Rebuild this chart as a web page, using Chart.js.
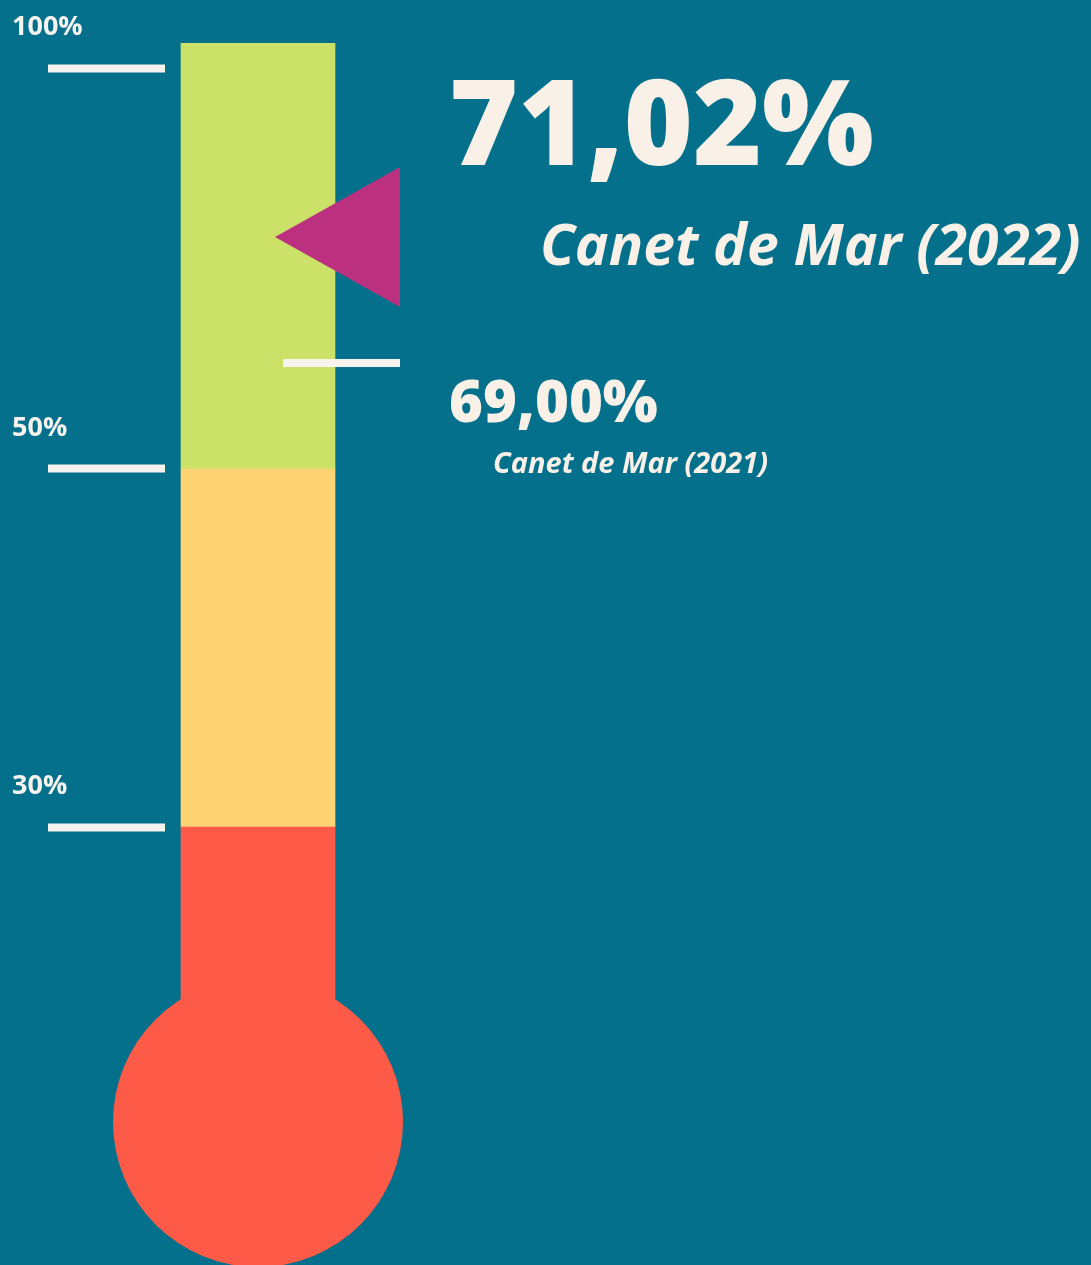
<!DOCTYPE html>
<html><head><meta charset="utf-8">
<script src="https://cdn.jsdelivr.net/npm/chart.js@4/dist/chart.umd.min.js"></script>
<style>html,body{margin:0;padding:0;background:#04708b;} canvas{display:block}</style>
</head><body>
<canvas id="c" width="1091" height="1265"></canvas>
<script>
// ---------- data ----------
const categories = ['Canet de Mar'];
const bandStarts = [0, 30, 50];            // lower edges of red / yellow / green bands (%)
const axisMax = 103;                       // top of the thermometer tube (%)
const tickValues = [30, 50, 100];
const seriesNames = ['Canet de Mar (2022)', 'Canet de Mar (2021)'];
const seriesValues = [71.02, 69.00];
const bulbValue = [0];

// non-linear axis of the infographic: [value, fraction of axis height]
const axisStops = [[0, 0], [30, 0.2734], [50, 0.6052], [69, 0.7034], [71.02, 0.8202], [100, 0.9768], [103, 1]];

class ThermoScale extends Chart.LinearScale {
  _dec(v) {
    const s = axisStops;
    let i = 1;
    while (i < s.length - 1 && v > s[i][0]) i++;
    const [v0, f0] = s[i - 1], [v1, f1] = s[i];
    return f0 + (v - v0) / (v1 - v0) * (f1 - f0);
  }
  getPixelForValue(v) { return this.getPixelForDecimal(this._dec(v)); }
  getValueForPixel(p) {
    const d = this.getDecimalForPixel(p), s = axisStops;
    let i = 1;
    while (i < s.length - 1 && d > s[i][1]) i++;
    const [v0, f0] = s[i - 1], [v1, f1] = s[i];
    return v0 + (d - f0) / (f1 - f0) * (v1 - v0);
  }
}
ThermoScale.id = 'thermo';
ThermoScale.defaults = Chart.LinearScale.defaults;
Chart.register(ThermoScale);

const fmt = v => v.toFixed(2).replace('.', ',') + '%';

const markerPlugin = {
  id: 'markers',
  afterDatasetsDraw(chart) {
    const ys = chart.scales.y, ctx = chart.ctx;
    const bar = chart.getDatasetMeta(0).data[0];
    const right = bar.x + bar.width / 2;
    const y21 = ys.getPixelForValue(seriesValues[1]);
    const y22 = ys.getPixelForValue(seriesValues[0]);
    ctx.save();
    ctx.fillStyle = '#f7f4f0';
    ctx.fillRect(right - 52, y21 - 4, 117, 8);
    ctx.fillStyle = '#bb3180';
    ctx.beginPath();
    ctx.moveTo(right - 60, y22);
    ctx.lineTo(right + 65, y22 - 70);
    ctx.lineTo(right + 65, y22 + 70);
    ctx.closePath();
    ctx.fill();
    ctx.fillStyle = '#f9f1e8';
    ctx.textAlign = 'left';
    ctx.textBaseline = 'alphabetic';
    ctx.font = "800 118px 'Open Sans'";
    ctx.fillText(fmt(seriesValues[0]), right + 114, y22 - 72);
    ctx.font = "italic 700 57px 'Open Sans'";
    ctx.fillText(seriesNames[0], right + 205, y22 + 28);
    ctx.font = "800 58px 'Open Sans'";
    ctx.fillText(fmt(seriesValues[1]), right + 114, y21 + 59);
    ctx.font = "italic 700 29px 'Open Sans'";
    ctx.fillText(seriesNames[1], right + 158, y21 + 110);
    ctx.restore();
  }
};

const bandColors = ['#fd5a48', '#fdd373', '#cbe168'];
const bandEnds = bandStarts.slice(1).concat([axisMax]);
const datasets = bandStarts.map((s, i) => ({
  label: 'band' + i,
  data: [[s, bandEnds[i]]],
  backgroundColor: bandColors[i],
  borderWidth: 0,
  grouped: false,
  barThickness: 154,
  order: 2
}));
datasets.push({
  type: 'line', label: 'bulb', data: bulbValue, showLine: false,
  pointRadius: 145, pointHoverRadius: 145, pointBackgroundColor: bandColors[0],
  pointBorderWidth: 0, clip: false, order: 3
});

new Chart(document.getElementById('c'), {
  type: 'bar',
  data: { labels: categories, datasets },
  options: {
    responsive: false, animation: false, events: [],
    layout: { autoPadding: false, padding: { left: 12, right: 740, top: 43, bottom: 143 } },
    plugins: { legend: { display: false }, tooltip: { enabled: false } },
    scales: {
      x: { display: false },
      y: {
        type: 'thermo', min: 0, max: axisMax,
        afterBuildTicks: s => { s.ticks = tickValues.map(v => ({ value: v })); },
        afterFit: s => { s.width = 153; s.paddingTop = 0; s.paddingBottom = 0; },
        grid: { drawOnChartArea: false, drawTicks: true, tickLength: 117, tickWidth: 8, tickColor: '#f7f4f0' },
        border: { display: false },
        ticks: {
          crossAlign: 'far', labelOffset: -41, padding: 0, color: '#f7f4f0',
          font: { family: 'Open Sans', weight: 'bold', size: 27 },
          callback: v => v + '%'
        }
      }
    }
  },
  plugins: [markerPlugin]
});
</script>
</body></html>
